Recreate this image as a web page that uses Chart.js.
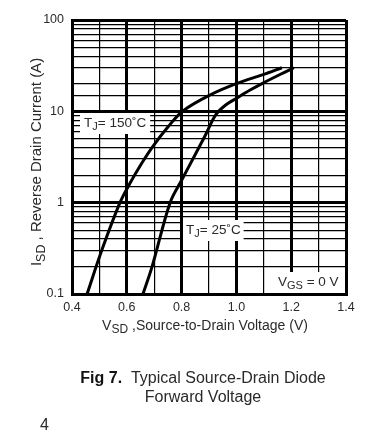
<!DOCTYPE html>
<html>
<head>
<meta charset="utf-8">
<script src="https://cdn.jsdelivr.net/npm/chart.js@4.4.0/dist/chart.umd.min.js"></script>
<style>
  body { margin: 0; background: #fff; }
  #wrap { width: 375px; height: 443px; }
</style>
</head>
<body>
<div id="wrap"><canvas id="diodeChart" width="375" height="443"></canvas></div>
<script>
// forward voltage (V) vs reverse drain current (A)
const vsd150 = [0.455, 0.509, 0.575, 0.612, 0.655, 0.696, 0.750, 0.805, 0.904, 1.002, 1.097, 1.166];
const isd150 = [0.1, 0.303, 1.0, 1.64, 2.72, 4.17, 6.74, 10.1, 15.1, 20.2, 25.2, 30.0];
const vsd25 = [0.659, 0.692, 0.758, 0.801, 0.845, 0.889, 0.925, 0.962, 1.002, 1.05, 1.097, 1.159, 1.21];
const isd25 = [0.1, 0.198, 1.0, 1.78, 3.16, 5.65, 9.2, 11.8, 14.0, 17.1, 20.4, 25.3, 30.0];
const yTicks = [0.1, 1, 10, 100];

const FONT = '"Liberation Sans", Arial, sans-serif';
const TXT = '#2a2a2a';

function pts(xs, ys) {
  return xs.map((x, i) => ({ x: x, y: ys[i] }));
}

function isDecade(v) {
  return yTicks.some(t => Math.abs(v - t) < t * 1e-6);
}

// draws text made of pieces, some of them subscripts
function drawParts(ctx, parts, x, y, align) {
  let w = 0;
  parts.forEach(p => {
    ctx.font = (p.bold ? 'bold ' : '') + p.size + 'px ' + FONT;
    p.w = ctx.measureText(p.t).width;
    w += p.w;
  });
  let cx = align === 'center' ? x - w / 2 : (align === 'right' ? x - w : x);
  ctx.textAlign = 'left';
  ctx.textBaseline = 'middle';
  parts.forEach(p => {
    ctx.font = (p.bold ? 'bold ' : '') + p.size + 'px ' + FONT;
    ctx.fillStyle = p.color || TXT;
    ctx.fillText(p.t, cx, y + (p.dy || 0));
    cx += p.w;
  });
  return w;
}

function boxLabel(ctx, parts, x, y, padX) {
  let w = 0;
  parts.forEach(p => {
    ctx.font = p.size + 'px ' + FONT;
    w += ctx.measureText(p.t).width;
  });
  ctx.fillStyle = '#fff';
  ctx.fillRect(x - padX, y - 10, w + padX * 2, 21);
  drawParts(ctx, parts, x, y, 'left');
}

const textPlugin = {
  id: 'textPlugin',
  afterDatasetsDraw(chart) {
    const ctx = chart.ctx;
    ctx.save();
    boxLabel(ctx, [{ t: 'T', size: 13.5 }, { t: 'J', size: 11, dy: 4 }, { t: '= 150\u02DAC', size: 13.5 }], 84, 123, 4);
    boxLabel(ctx, [{ t: 'T', size: 13.5 }, { t: 'J', size: 11, dy: 4 }, { t: '= 25\u02DAC', size: 13.5 }], 186, 230, 3);
    boxLabel(ctx, [{ t: 'V', size: 13.5 }, { t: 'GS', size: 11, dy: 4 }, { t: ' = 0 V', size: 13.5 }], 278, 282, 4);
    ctx.restore();
  },
  afterDraw(chart) {
    const ctx = chart.ctx;
    ctx.save();
    // axis titles
    drawParts(ctx, [{ t: 'V', size: 14 }, { t: 'SD', size: 12, dy: 4 }, { t: ' ,Source-to-Drain Voltage (V)', size: 14 }], 205, 326, 'center');
    ctx.translate(37, 162);
    ctx.rotate(-Math.PI / 2);
    drawParts(ctx, [{ t: 'I', size: 15 }, { t: 'SD', size: 12.5, dy: 5 }, { t: ' , Reverse Drain Current (A)', size: 15 }], 0, 0, 'center');
    ctx.restore();
    ctx.save();
    // caption
    drawParts(ctx, [{ t: 'Fig 7.', size: 16, bold: true, color: '#111' }, { t: '  Typical Source-Drain Diode', size: 16 }], 203, 379, 'center');
    drawParts(ctx, [{ t: 'Forward Voltage', size: 16 }], 203, 398, 'center');
    drawParts(ctx, [{ t: '4', size: 16 }], 40, 426, 'left');
    ctx.restore();
  }
};

const ctx = document.getElementById('diodeChart').getContext('2d');
new Chart(ctx, {
  type: 'line',
  data: {
    datasets: [
      { label: 'TJ = 150C', data: pts(vsd150, isd150) },
      { label: 'TJ = 25C', data: pts(vsd25, isd25) }
    ]
  },
  options: {
    responsive: false,
    animation: false,
    layout: { padding: { left: 0, top: 20, right: 29, bottom: 0 } },
    elements: {
      line: { borderColor: '#000', borderWidth: 3, tension: 0.35, fill: false },
      point: { radius: 0 }
    },
    plugins: {
      legend: { display: false },
      tooltip: { enabled: false }
    },
    scales: {
      x: {
        type: 'linear',
        min: 0.4,
        max: 1.4,
        afterFit: s => { s.height = 149; },
        ticks: {
          stepSize: 0.1,
          autoSkip: false,
          maxRotation: 0,
          padding: 6,
          color: TXT,
          font: { family: FONT, size: 12.5 },
          callback: v => (Math.round(v * 10) % 2 === 0 ? v.toFixed(1) : '')
        },
        grid: {
          color: '#000',
          drawTicks: false,
          lineWidth: c => (c.tick && Math.round(c.tick.value * 10) % 2 === 0 ? 3 : 1.2)
        },
        border: { display: true, color: '#000', width: 3 }
      },
      y: {
        type: 'logarithmic',
        min: 0.1,
        max: 100,
        afterFit: s => { s.width = 72; },
        ticks: {
          autoSkip: false,
          padding: 8,
          color: TXT,
          font: { family: FONT, size: 12.5 },
          callback: v => (isDecade(v) ? String(v) : '')
        },
        grid: {
          color: '#000',
          drawTicks: false,
          lineWidth: c => (c.tick && isDecade(c.tick.value) ? 3 : 1.2)
        },
        border: { display: true, color: '#000', width: 3 }
      }
    }
  },
  plugins: [textPlugin]
});
</script>
</body>
</html>
